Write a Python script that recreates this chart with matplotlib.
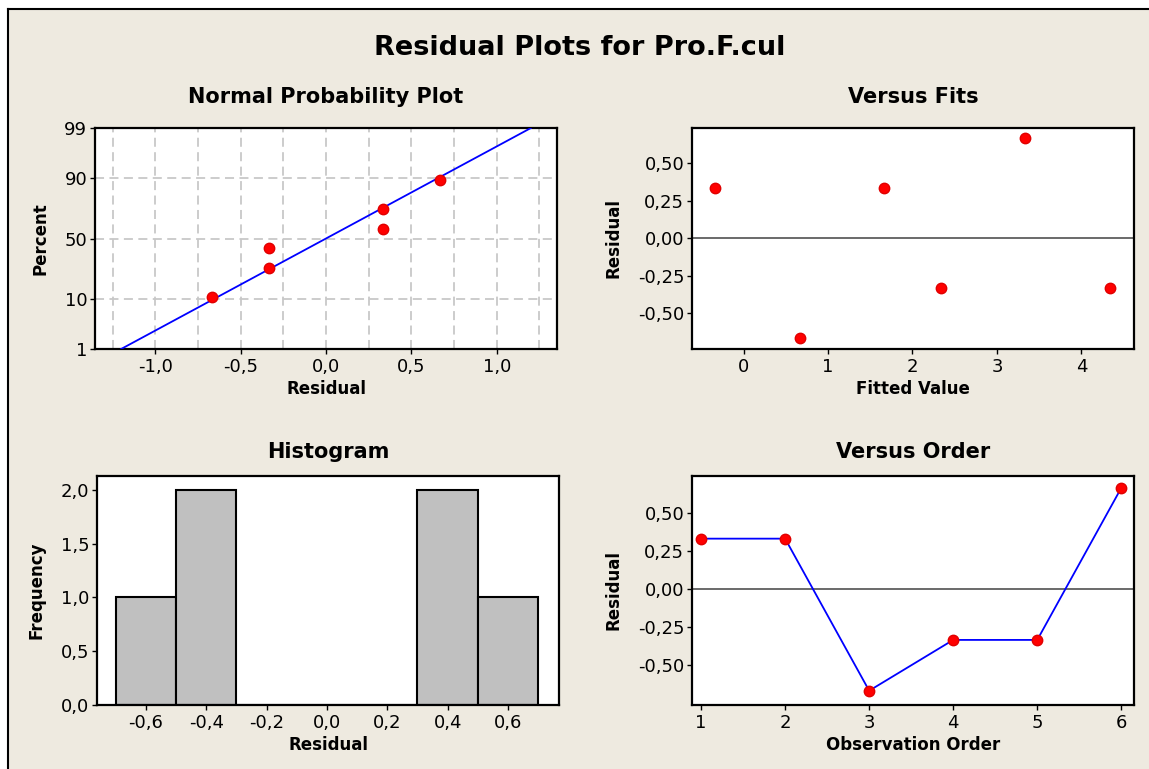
import math
import matplotlib
matplotlib.use("Agg")
import matplotlib.pyplot as plt
from matplotlib.lines import Line2D
from matplotlib.patches import Rectangle
from matplotlib.ticker import FixedLocator, FuncFormatter, MultipleLocator
import numpy as np

# data
npp_resid = [-0.667, -0.333, -0.333, 0.333, 0.333, 0.667]
npp_pct = [10.9, 26.6, 42.2, 57.8, 73.4, 89.1]
npp_fit_x = [-1.2, 1.2]
npp_fit_pct = [1, 99]

fitted = [-0.333, 0.667, 1.667, 2.333, 3.333, 4.333]
fit_resid = [0.333, -0.667, 0.333, -0.333, 0.667, -0.333]

hist_centers = [-0.6, -0.4, -0.2, 0.0, 0.2, 0.4, 0.6]
hist_counts = [1, 2, 0, 0, 0, 2, 1]

order = [1, 2, 3, 4, 5, 6]
order_resid = [0.333, 0.333, -0.667, -0.333, -0.333, 0.667]

pct_ticks = [1, 10, 50, 90, 99]
resid_ticks = [-0.5, -0.25, 0.0, 0.25, 0.5]

BG = "#EEEAE0"
W, H = 1149, 769

# normal probability scale
_z = np.linspace(-9, 9, 6001)
_p = np.array([0.5 * (1 + math.erf(v / math.sqrt(2))) for v in _z]) * 100


def prob_fwd(p):
    return np.interp(np.clip(p, 1e-12, 100 - 1e-12), _p, _z)


def prob_inv(z):
    return np.interp(z, _z, _p)


def comma(fmt):
    return FuncFormatter(lambda v, pos: fmt.format(v).replace(".", ","))


def style(ax, title, xlabel, ylabel, title_pad):
    ax.set_facecolor("white")
    for s in ax.spines.values():
        s.set_linewidth(1.6)
        s.set_color("black")
    ax.tick_params(labelsize=13, length=3.5, width=1, pad=3, direction="out")
    ax.tick_params(axis="y", pad=2)
    ax.set_title(title, fontsize=15, fontweight="bold", pad=title_pad)
    ax.set_xlabel(xlabel, fontsize=12, fontweight="bold", labelpad=3)
    ax.set_ylabel(ylabel, fontsize=12, fontweight="bold", labelpad=11)


fig = plt.figure(figsize=(W / 100, H / 100), dpi=100, facecolor="white")
fig.add_artist(Rectangle((8 / W, 0), 1, 1 - 9.3 / H, transform=fig.transFigure,
                         fc=BG, ec="none", zorder=-10))
fig.add_artist(Line2D([8 / W, 8 / W], [0, 1 - 9.3 / H], transform=fig.transFigure,
                      color="black", lw=1.5))
fig.add_artist(Line2D([8 / W, 1], [1 - 9.3 / H, 1 - 9.3 / H], transform=fig.transFigure,
                      color="black", lw=1.5))

fig.text(580 / W, 1 - 55 / H, "Residual Plots for Pro.F.cul", ha="center",
         va="baseline", fontsize=19.5, fontweight="bold")

ax1 = fig.add_axes([95 / W, 1 - 349 / H, 462 / W, 221 / H])
ax2 = fig.add_axes([692 / W, 1 - 349 / H, 442 / W, 221 / H])
ax3 = fig.add_axes([97 / W, 1 - 705 / H, 462 / W, 229 / H])
ax4 = fig.add_axes([692 / W, 1 - 705 / H, 442 / W, 229 / H])

# Normal probability plot
ax1.set_yscale("function", functions=(prob_fwd, prob_inv))
ax1.set_ylim(1, 99)
ax1.set_xlim(-1.353, 1.353)
ax1.yaxis.set_major_locator(FixedLocator(pct_ticks))
ax1.yaxis.set_minor_locator(FixedLocator([]))
ax1.yaxis.set_major_formatter(FuncFormatter(lambda v, pos: f"{v:g}"))
ax1.xaxis.set_major_locator(MultipleLocator(0.5))
ax1.xaxis.set_minor_locator(MultipleLocator(0.25))
ax1.xaxis.set_major_formatter(comma("{:.1f}"))
ax1.tick_params(axis="x", which="minor", length=0)
ax1.tick_params(axis="y", length=0)
ax1.grid(True, which="both", color="#C8C8C8", lw=1.3, ls=(0, (5, 3)))
ax1.set_axisbelow(True)
ax1.plot(npp_fit_x, npp_fit_pct, color="#0000FF", lw=1.3, zorder=3)
ax1.plot(npp_resid, npp_pct, "o", color="#FF0000", mec="#E00000", ms=7.5, zorder=4)
style(ax1, "Normal Probability Plot", "Residual", "Percent", 18)

# Versus fits
ax2.axhline(0, color="#505050", lw=1.2)
ax2.plot(fitted, fit_resid, "o", color="#FF0000", mec="#E00000", ms=7.5)
ax2.set_xlim(-0.611, 4.623)
ax2.set_ylim(-0.738, 0.735)
ax2.xaxis.set_major_locator(MultipleLocator(1))
ax2.yaxis.set_major_locator(FixedLocator(resid_ticks))
ax2.yaxis.set_major_formatter(comma("{:.2f}"))
style(ax2, "Versus Fits", "Fitted Value", "Residual", 18)

# Histogram
ax3.bar(hist_centers, hist_counts, width=0.2, color="#C0C0C0", edgecolor="black", lw=1.5)
ax3.set_xlim(-0.762, 0.769)
ax3.set_ylim(0, 2.13)
ax3.xaxis.set_major_locator(MultipleLocator(0.2))
ax3.xaxis.set_major_formatter(comma("{:.1f}"))
ax3.yaxis.set_major_locator(MultipleLocator(0.5))
ax3.yaxis.set_major_formatter(comma("{:.1f}"))
style(ax3, "Histogram", "Residual", "Frequency", 12.7)

# Versus order
ax4.axhline(0, color="#505050", lw=1.2)
ax4.plot(order, order_resid, "-o", color="#0000FF", lw=1.3, mfc="#FF0000",
         mec="#E00000", ms=7.5)
ax4.set_xlim(0.892, 6.151)
ax4.set_ylim(-0.761, 0.745)
ax4.xaxis.set_major_locator(MultipleLocator(1))
ax4.yaxis.set_major_locator(FixedLocator(resid_ticks))
ax4.yaxis.set_major_formatter(comma("{:.2f}"))
style(ax4, "Versus Order", "Observation Order", "Residual", 12.7)

fig.savefig("out.png", dpi=100, facecolor=fig.get_facecolor())
